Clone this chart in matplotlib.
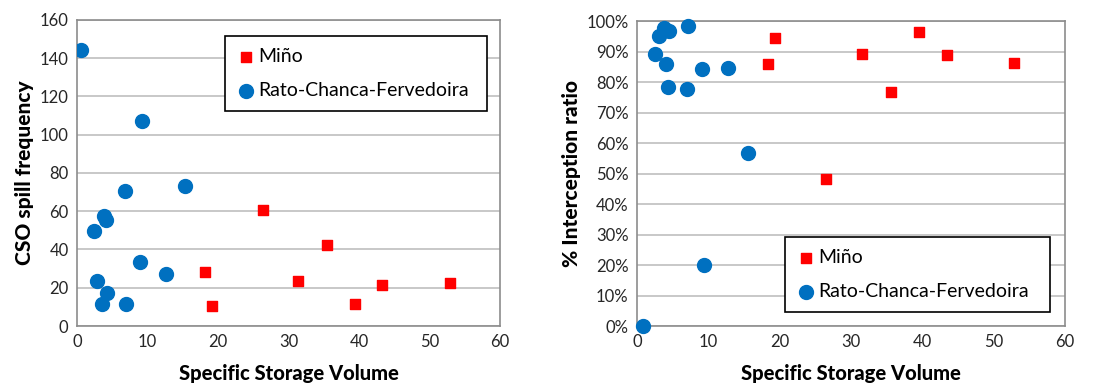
import numpy as np
import matplotlib
matplotlib.use("Agg")
import matplotlib.pyplot as plt
from matplotlib.ticker import PercentFormatter

plt.rcParams['font.family'] = ['Lato', 'DejaVu Sans']

# CSO spill frequency chart
mino_x1 = [18.2, 19.2, 26.4, 31.4, 35.5, 39.5, 43.3, 52.9]
mino_spill = [28.4, 10.5, 60.5, 23.4, 42.5, 11.5, 21.4, 22.5]
rcf_x1 = [0.57, 9.2, 15.3, 6.8, 3.9, 4.1, 2.4, 8.9, 12.6, 2.9, 4.2, 3.6, 7.0]
rcf_spill = [144.3, 107.4, 73.4, 70.4, 57.5, 55.4, 49.5, 33.3, 27.4, 23.4, 17.4, 11.5, 11.5]

# interception ratio chart
mino_x2 = [18.35, 19.4, 26.5, 31.5, 35.6, 39.5, 43.4, 52.9]
mino_ratio = [0.860, 0.944, 0.481, 0.893, 0.766, 0.964, 0.890, 0.864]
rcf_x2 = [0.79, 2.57, 3.08, 3.74, 4.44, 7.14, 4.06, 4.30, 6.96, 9.1, 12.8, 15.5, 9.34]
rcf_ratio = [0.0, 0.891, 0.952, 0.978, 0.966, 0.983, 0.860, 0.785, 0.777, 0.842, 0.846, 0.567, 0.200]

RED = "#FF0000"
BLUE = "#0070C0"
GRID = "#BFBFBF"

fig = plt.figure(figsize=(10.93, 3.87), dpi=100)
ax1 = fig.add_axes([0.0704, 0.1576, 0.387, 0.791])
ax2 = fig.add_axes([0.5828, 0.1576, 0.3916, 0.788])


def style(ax, ylabel):
    ax.set_xlim(0, 60)
    ax.set_xticks(np.arange(0, 61, 10))
    ax.yaxis.grid(True, color=GRID, linewidth=1.2)
    ax.set_axisbelow(True)
    for s in ax.spines.values():
        s.set_color("#8C8C8C")
        s.set_linewidth(1.2)
    ax.tick_params(length=0, labelsize=12, pad=6, colors="#262626")
    ax.set_xlabel("Specific Storage Volume", fontsize=14.5, fontweight="black", labelpad=10)
    ax.set_ylabel(ylabel, fontsize=15, fontweight="black", labelpad=4)


def legend(ax, anchor):
    leg = ax.legend(loc="center left", bbox_to_anchor=anchor, mode="expand",
                    fontsize=14, frameon=True, fancybox=False, edgecolor="black",
                    framealpha=1, borderaxespad=0, handletextpad=0.1, handlelength=1.0,
                    labelspacing=0.9, borderpad=0.6)
    leg.get_frame().set_linewidth(1.2)


ax1.scatter(mino_x1, mino_spill, marker="s", s=62, color=RED, label="Miño", zorder=3)
ax1.scatter(rcf_x1, rcf_spill, marker="o", s=100, color=BLUE, label="Rato-Chanca-Fervedoira", zorder=3)
ax1.set_ylim(0, 160)
ax1.set_yticks(np.arange(0, 161, 20))
style(ax1, "CSO spill frequency")
legend(ax1, (0.35, 0.709, 0.62, 0.232))

ax2.scatter(mino_x2, mino_ratio, marker="s", s=62, color=RED, label="Miño", zorder=3)
ax2.scatter(rcf_x2, rcf_ratio, marker="o", s=100, color=BLUE, label="Rato-Chanca-Fervedoira", zorder=3,
            clip_on=False)
ax2.set_ylim(0, 1.0)
ax2.set_yticks(np.arange(0, 1.01, 0.1))
ax2.yaxis.set_major_formatter(PercentFormatter(1.0, decimals=0))
style(ax2, "% Interception ratio")
legend(ax2, (0.346, 0.052, 0.619, 0.233))

fig.savefig("out.png", dpi=100)
